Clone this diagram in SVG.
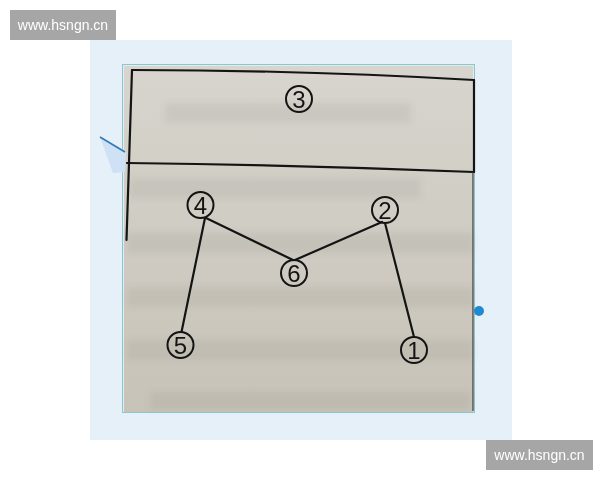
<svg xmlns="http://www.w3.org/2000/svg" width="600" height="480" viewBox="0 0 600 480">
  <defs>
    <linearGradient id="paper" x1="0" y1="0" x2="0" y2="1">
      <stop offset="0" stop-color="#d8d5ce"/>
      <stop offset="0.3" stop-color="#d2cfc7"/>
      <stop offset="1" stop-color="#c8c3b8"/>
    </linearGradient>
    <filter id="blur" x="-20%" y="-100%" width="140%" height="300%">
      <feGaussianBlur stdDeviation="3"/>
    </filter>
  </defs>
  <style>
    .wm { fill: #a6a6a6; }
    .wmt { fill: #ffffff; font-family: "Liberation Sans", Arial, sans-serif; font-size: 14px; text-anchor: middle; }
    .ink { stroke: #141414; stroke-width: 2.2; fill: none; stroke-linecap: round; }
    .node circle { fill: none; stroke: #141414; stroke-width: 2; }
    .node text { fill: #141414; font-family: "Liberation Sans", Arial, sans-serif; font-size: 24px; text-anchor: middle; }
    .band { fill: #7d7870; opacity: 0.12; }
  </style>

  <rect width="600" height="480" fill="#ffffff"/>
  <rect x="90" y="40" width="422" height="400" fill="#e6f0f9"/>

  <!-- photo frame -->
  <rect x="122.5" y="64.5" width="352" height="348" fill="#dbeef0" stroke="#8fc6cc" stroke-width="1"/>
  <rect x="124" y="66" width="349" height="346" fill="url(#paper)"/>

  <!-- faint show-through from the page -->
  <g filter="url(#blur)">
    <rect class="band" x="165" y="103" width="246" height="20"/>
    <rect class="band" x="130" y="178" width="290" height="20"/>
    <rect class="band" x="127" y="233" width="346" height="20"/>
    <rect class="band" x="127" y="287" width="346" height="20"/>
    <rect class="band" x="127" y="340" width="346" height="20"/>
    <rect class="band" x="150" y="392" width="320" height="18"/>
  </g>

  <!-- paper shard and blue dot -->
  <polygon points="100,137 126,151 125,172 113,173" fill="#cfe1f4"/>
  <line x1="100" y1="137" x2="125" y2="152" stroke="#2f78b4" stroke-width="1.5"/>
  <circle cx="479" cy="311" r="5" fill="#1f8ad2"/>

  <!-- table frame lines -->
  <g id="frame">
    <path class="ink" d="M132,70 Q300,70 474,80"/>
    <path class="ink" d="M127,163 Q300,165 474,172"/>
    <path class="ink" d="M132,70 L126.5,240"/>
    <path class="ink" d="M474,80 L474,172"/>
    <line x1="473" y1="172" x2="473" y2="411" stroke="#3a3a38" stroke-width="1.2"/>
  </g>

  <!-- connectors -->
  <g id="connectors">
    <line class="ink" x1="206" y1="218" x2="293" y2="260"/>
    <line class="ink" x1="295" y1="260" x2="382" y2="222"/>
    <line class="ink" x1="385" y1="223" x2="414" y2="337"/>
    <line class="ink" x1="205" y1="218" x2="181.5" y2="332"/>
  </g>

  <!-- nodes -->
  <g id="n3" class="node"><circle cx="299" cy="99" r="13"/><text x="299" y="107.5">3</text></g>
  <g id="n4" class="node"><circle cx="200.5" cy="205" r="13"/><text x="200.5" y="213.5">4</text></g>
  <g id="n2" class="node"><circle cx="385" cy="210" r="13"/><text x="385" y="218.5">2</text></g>
  <g id="n6" class="node"><circle cx="294" cy="273" r="13"/><text x="294" y="281.5">6</text></g>
  <g id="n5" class="node"><circle cx="180.5" cy="345" r="13"/><text x="180.5" y="353.5">5</text></g>
  <g id="n1" class="node"><circle cx="414" cy="350" r="13"/><text x="414" y="358.5">1</text></g>

  <!-- watermarks -->
  <rect class="wm" x="10" y="10" width="106" height="30"/>
  <text class="wmt" x="63" y="30">www.hsngn.cn</text>
  <rect class="wm" x="486" y="440" width="107" height="30"/>
  <text class="wmt" x="539.5" y="460">www.hsngn.cn</text>
</svg>
